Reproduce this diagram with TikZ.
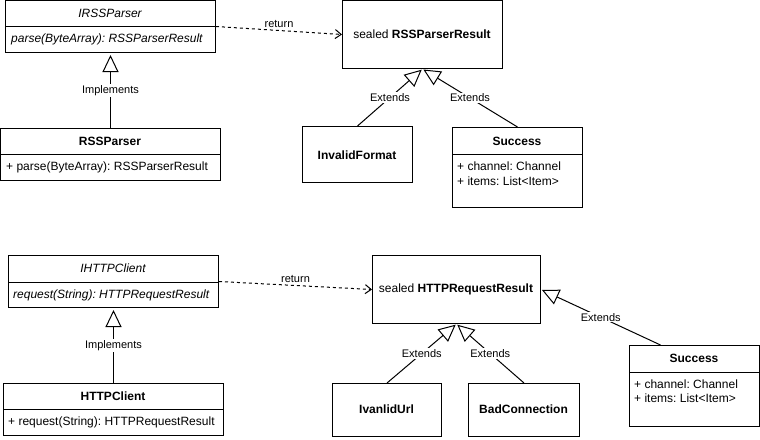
\documentclass[tikz,border=0pt]{standalone}
\usepackage{fontspec}
\setmainfont{Liberation Sans}
\usetikzlibrary{arrows.meta,calc}
\frenchspacing
\begin{document}
\begin{tikzpicture}[x=1pt,y=-1pt,
  box/.style={draw=black, line width=1pt, fill=white, rectangle, inner sep=0pt, anchor=north west},
  txt/.style={font=\fontsize{12}{14}\selectfont, inner sep=0pt},
  txti/.style={font=\fontsize{12}{14}\selectfont\itshape, inner sep=0pt},
  txtb/.style={font=\fontsize{12}{14}\selectfont\bfseries, inner sep=0pt},
  lbl/.style={font=\fontsize{11}{13}\selectfont, fill=white, inner sep=1pt},
  inh/.style={draw, line width=1pt, -{Triangle[open,length=17pt,width=16pt,fill=white]}},
  ret/.style={draw, line width=1pt, dash pattern=on 3pt off 3pt, -{Straight Barb[length=6pt,width=9pt]}},
]
\useasboundingbox (0,0) rectangle (760,439);
\fill[white] (0,0) rectangle (760,439);

% ---------- top part ----------
\node[box, minimum width=210pt, minimum height=52pt] (irss) at (5,0) {};
\draw[line width=1pt] ($(irss.north west)+(0,26)$) coordinate (irssL) -- ($(irss.north east)+(0,26)$) coordinate (irssR);
\node[txti] (irssT) at (110,13) {IRSSParser};
\node[txti, anchor=west] (irssM) at (11,39) {parse(ByteArray): RSSParserResult};

\node[box, minimum width=220pt, minimum height=52pt] (rssp) at (0,128) {};
\draw[line width=1pt] ($(rssp.north west)+(0,26)$) coordinate (rsspL) -- ($(rssp.north east)+(0,26)$) coordinate (rsspR);
\node[txtb] (rsspT) at (110,141) {RSSParser};
\node[txt, anchor=west] (rsspM) at (6,167) {+ parse(ByteArray): RSSParserResult};

\node[box, minimum width=160pt, minimum height=68pt] (res) at (342,0) {};
\node[txt] (resT) at (422,34) {sealed \textbf{RSSParserResult}};

\node[box, minimum width=110pt, minimum height=56pt] (invf) at (302,126) {};
\node[txtb] (invfT) at (357,155) {InvalidFormat};

\node[box, minimum width=130pt, minimum height=80pt] (succ) at (452,127) {};
\draw[line width=1pt] ($(succ.north west)+(0,27)$) coordinate (succL) -- ($(succ.north east)+(0,27)$) coordinate (succR);
\node[txtb] (succT) at (517,141) {Success};
\node[txt, anchor=west] (succA) at (457,166) {+ channel: Channel};
\node[txt, anchor=west] (succB) at (457,181) {+ items: List<Item>};

\draw[inh, shorten >=2pt] (rssp.north) -- node[lbl] {Implements} (irss.south);
\draw[ret] (irss.east) -- node[lbl, fill=none, above, inner sep=2pt] {return} (res.west);
\draw[inh, shorten >=1pt] (invf.north) -- node[lbl] {Extends} (res.south);
\draw[inh, shorten >=1pt] (succ.north) -- node[lbl] {Extends} (res.south);

% ---------- bottom part ----------
\node[box, minimum width=210pt, minimum height=52pt] (ihttp) at (8,255) {};
\draw[line width=1pt] ($(ihttp.north west)+(0,27)$) coordinate (ihttpL) -- ($(ihttp.north east)+(0,27)$) coordinate (ihttpR);
\node[txti] (ihttpT) at (113,268) {IHTTPClient};
\node[txti, anchor=west] (ihttpM) at (13,295) {request(String): HTTPRequestResult};

\node[box, minimum width=220pt, minimum height=52pt] (hcl) at (3,383) {};
\draw[line width=1pt] ($(hcl.north west)+(0,26)$) coordinate (hclL) -- ($(hcl.north east)+(0,26)$) coordinate (hclR);
\node[txtb] (hclT) at (113,396) {HTTPClient};
\node[txt, anchor=west] (hclM) at (8,422) {+ request(String): HTTPRequestResult};

\node[box, minimum width=168pt, minimum height=68pt] (hres) at (372,255) {};
\node[txt] (hresT) at (456,289) {sealed \textbf{HTTPRequestResult}};

\node[box, minimum width=109pt, minimum height=53pt] (iurl) at (332,383) {};
\node[txtb] (iurlT) at (386.5,409) {IvanlidUrl};

\node[box, minimum width=111pt, minimum height=53pt] (badc) at (468,383) {};
\node[txtb] (badcT) at (523.5,409) {BadConnection};

\node[box, minimum width=130pt, minimum height=81pt] (succ2) at (629,345) {};
\draw[line width=1pt] ($(succ2.north west)+(0,27)$) coordinate (succ2L) -- ($(succ2.north east)+(0,27)$) coordinate (succ2R);
\node[txtb] (succ2T) at (694,358) {Success};
\node[txt, anchor=west] (succ2A) at (634,384) {+ channel: Channel};
\node[txt, anchor=west] (succ2B) at (634,398) {+ items: List<Item>};
\coordinate (succ2S) at ($(succ2.north)+(-34,0)$);

\draw[inh, shorten >=2pt] (hcl.north) -- node[lbl] {Implements} (ihttp.south);
\draw[ret] (ihttp.east) -- node[lbl, fill=none, above, inner sep=2pt] {return} (hres.west);
\draw[inh, shorten >=1pt] (iurl.north) -- node[lbl] {Extends} (hres.south);
\draw[inh, shorten >=1pt] (badc.north) -- node[lbl] {Extends} (hres.south);
\draw[inh, shorten >=1pt] (succ2S) -- node[lbl] {Extends} (hres.east);
\end{tikzpicture}
\end{document}
